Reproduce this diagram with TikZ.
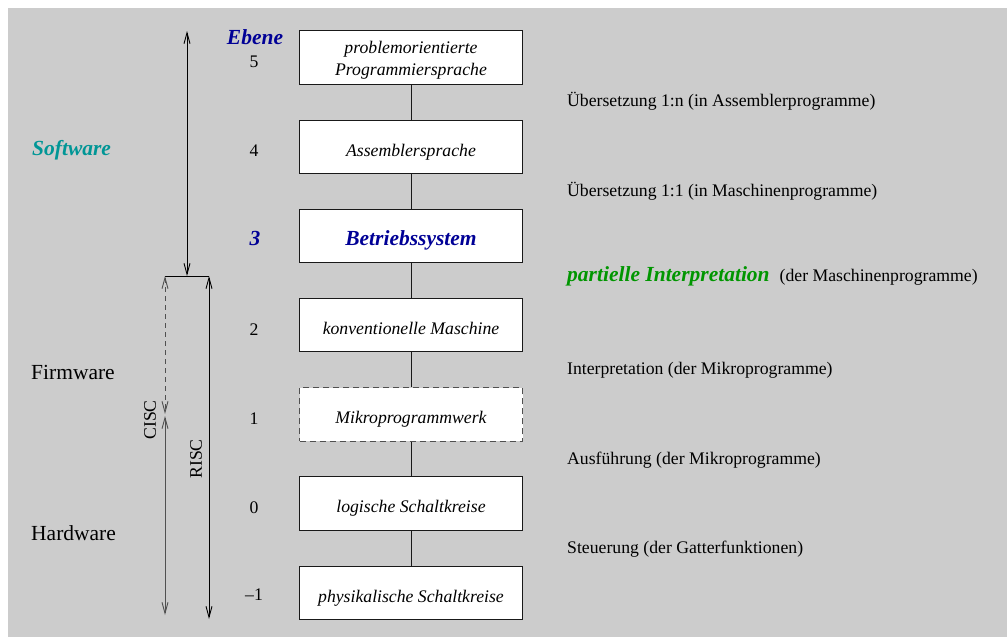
\documentclass[tikz,border=0pt]{standalone}
\usepackage{fontspec}
\setmainfont{Liberation Serif}
\usetikzlibrary{arrows.meta}
\definecolor{paper}{RGB}{204,204,204}
\definecolor{navyblue}{RGB}{0,0,150}
\definecolor{swteal}{RGB}{0,150,150}
\definecolor{pigreen}{RGB}{0,150,0}
\definecolor{darkgray}{RGB}{80,80,80}
\newcommand\fsN{\fontsize{17.7}{22}\selectfont}
\newcommand\fsL{\fontsize{21.5}{25}\selectfont}
\begin{document}
\begin{tikzpicture}[x=1pt,y=-1pt,
  levelbox/.style={draw=black!90, fill=white, line width=1pt,
    minimum width=223pt, minimum height=53.5pt, inner sep=0pt,
    font=\fsN\itshape, text height=22pt, text depth=4pt},
  conn/.style={draw=black!90, line width=1pt},
  num/.style={anchor=base, font=\fsN, inner sep=0pt},
  side/.style={anchor=base west, font=\fsN, inner sep=0pt},
  area/.style={anchor=base west, font=\fsL, inner sep=0pt},
  dim/.style={line width=0.9pt, {Straight Barb[length=11pt,width=6pt]}-{Straight Barb[length=11pt,width=6pt]}},
]
\useasboundingbox (0,0) rectangle (1007,637);
\fill[paper] (8,8) rectangle (1007,637);

% the seven levels
\node[levelbox, text height=, text depth=, align=center] (b5) at (411,57.5)
  {\rule{0pt}{17pt}problemorientierte\\Programmiersprache};
\node[levelbox] (b4) at (411,147) {Assemblersprache};
\node[levelbox, font=\fsL\bfseries\itshape, text=navyblue] (b3) at (411,236) {Betriebssystem};
\node[levelbox] (b2) at (411,325) {konventionelle Maschine};
\node[levelbox, draw=darkgray, dash pattern=on 6pt off 4pt] (b1) at (411,414.5) {Mikroprogrammwerk};
\node[levelbox] (b0) at (411,503.5) {logische Schaltkreise};
\node[levelbox] (bm) at (411,593) {physikalische Schaltkreise};

\draw[conn] (b5) -- (b4);
\draw[conn] (b4) -- (b3);
\draw[conn] (b3) -- (b2);
\draw[conn] (b2) -- (b1);
\draw[conn] (b1) -- (b0);
\draw[conn] (b0) -- (bm);

% level numbers
\node[num, font=\fsL\bfseries\itshape, text=navyblue] (hdr) at (255,44) {Ebene};
\node[num] (n5) at (254,67) {5};
\node[num] (n4) at (254,156.5) {4};
\node[num, font=\fsL\bfseries\itshape, text=navyblue] (n3) at (255,245) {3};
\node[num] (n2) at (254,335) {2};
\node[num] (n1) at (254,424.5) {1};
\node[num] (n0) at (254,513) {0};
\node[num] (nm) at (254,600) {\textendash1};

% transitions between levels
\node[side] (t54) at (567,106) {Übersetzung 1:n (in Assemblerprogramme)};
\node[side] (t43) at (567,196) {Übersetzung 1:1 (in Maschinenprogramme)};
\node[side] (t32) at (567,281) {{\fsL\bfseries\itshape\color{pigreen}partielle Interpretation}\hspace{10pt}(der Maschinenprogramme)};
\node[side] (t21) at (567,374) {Interpretation (der Mikroprogramme)};
\node[side] (t10) at (567,464) {Ausführung (der Mikroprogramme)};
\node[side] (t0m) at (567,553) {Steuerung (der Gatterfunktionen)};

% areas
\node[area, font=\fsL\bfseries\itshape, text=swteal] (sw) at (32,155) {Software};
\node[area] (fw) at (31,379) {Firmware};
\node[area] (hw) at (31,540) {Hardware};

% extent arrows
\coordinate (swtop) at (187,31);
\coordinate (swbot) at (187,276);
\coordinate (barL) at (165,276);
\coordinate (barR) at (209,276);
\coordinate (cmid1) at (165,414);
\coordinate (cmid2) at (165,416);
\coordinate (cbot) at (165,615);
\coordinate (rbot) at (209,619);

\draw[dim] (swtop) -- (swbot);
\draw[line width=0.9pt] (barL) -- (barR);
\draw[dim, draw=darkgray, dash pattern=on 5pt off 4pt] (barL) -- (cmid1);
\draw[dim, draw=darkgray] (cmid2) -- (cbot);
\draw[dim] (barR) -- (rbot);

\node[font=\fsN, rotate=90, inner sep=0pt] (cisc) at (150,420) {CISC};
\node[font=\fsN, rotate=90, inner sep=0pt] (risc) at (196,459) {RISC};
\end{tikzpicture}
\end{document}
